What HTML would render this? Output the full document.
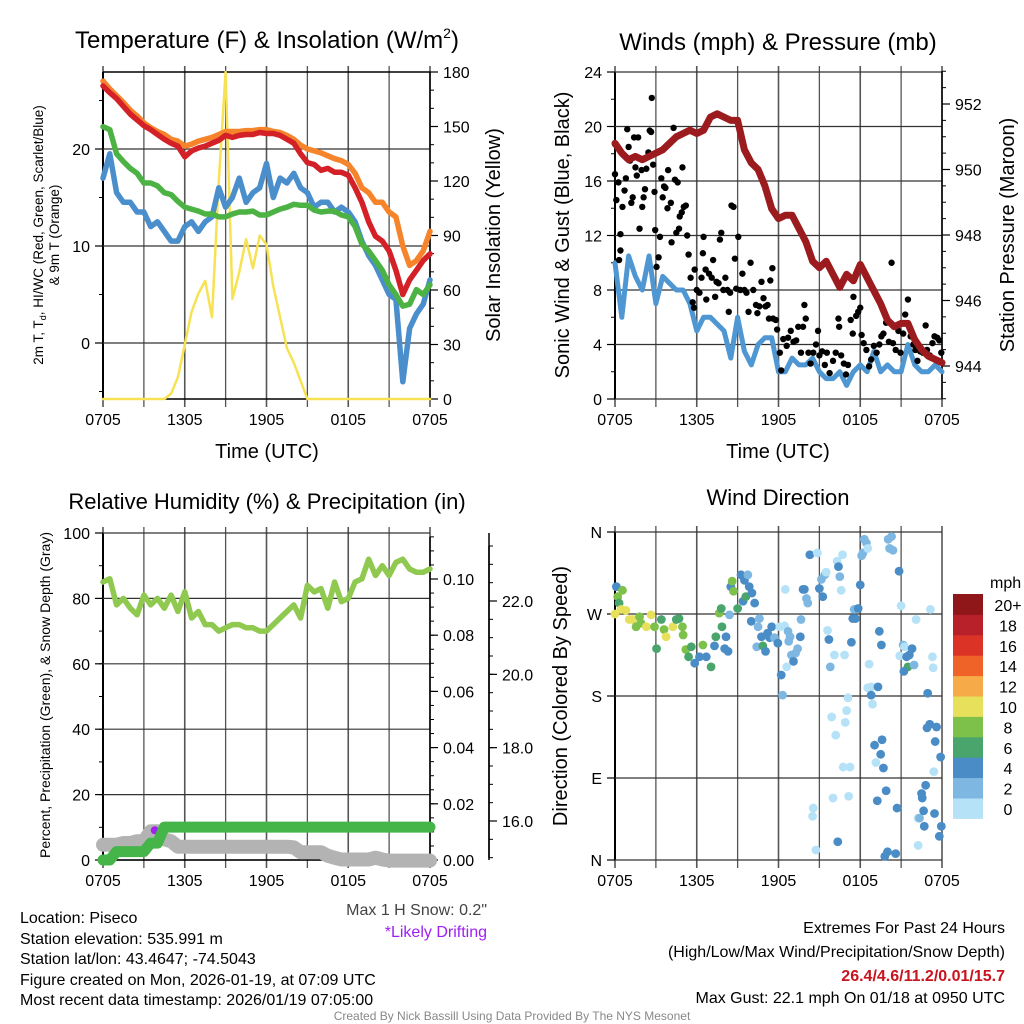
<!DOCTYPE html>
<html><head><meta charset="utf-8"><style>
html,body{margin:0;padding:0;background:#fff}
svg{display:block;font-family:"Liberation Sans",sans-serif}
</style></head><body>
<svg id="c" width="1024" height="1024" viewBox="0 0 1024 1024" xmlns="http://www.w3.org/2000/svg">
<g fill="#000" text-anchor="middle">
<text x="267" y="48" font-size="24">Temperature (F) &amp; Insolation (W/m<tspan font-size="14" dy="-10">2</tspan><tspan dy="10">)</tspan></text>
<text x="778" y="50" font-size="24">Winds (mph) &amp; Pressure (mb)</text>
<text x="267" y="509" font-size="22">Relative Humidity (%) &amp; Precipitation (in)</text>
<text x="778" y="505" font-size="22">Wind Direction</text>
<text x="267" y="458" font-size="20">Time (UTC)</text>
<text x="778" y="458" font-size="20">Time (UTC)</text>
<text transform="translate(43,235) rotate(-90)" font-size="13.5">2m T, T<tspan font-size="9" dy="3">d</tspan><tspan dy="-3">, HI/WC (Red, Green, Scarlet/Blue)</tspan></text>
<text transform="translate(59,235) rotate(-90)" font-size="13.5">&amp; 9m T (Orange)</text>
<text transform="translate(500,235) rotate(-90)" font-size="20">Solar Insolation (Yellow)</text>
<text transform="translate(569,235) rotate(-90)" font-size="20">Sonic Wind &amp; Gust (Blue, Black)</text>
<text transform="translate(1014,235) rotate(-90)" font-size="20">Station Pressure (Maroon)</text>
<text transform="translate(50,695) rotate(-90)" font-size="14">Percent, Precipitation (Green), &amp; Snow Depth (Gray)</text>
<text transform="translate(567,696) rotate(-90)" font-size="20">Direction (Colored By Speed)</text>
</g>
<g font-size="16" fill="#000">
<text x="487" y="915" text-anchor="end" fill="#444">Max 1 H Snow: 0.2"</text>
<text x="487" y="937" text-anchor="end" fill="#a020f0">*Likely Drifting</text>
<text x="20" y="923">Location: Piseco</text>
<text x="20" y="944">Station elevation: 535.991 m</text>
<text x="20" y="964">Station lat/lon: 43.4647; -74.5043</text>
<text x="20" y="985">Figure created on Mon, 2026-01-19, at 07:09 UTC</text>
<text x="20" y="1005">Most recent data timestamp: 2026/01/19 07:05:00</text>
<text x="1005" y="933" text-anchor="end">Extremes For Past 24 Hours</text>
<text x="1005" y="957" text-anchor="end">(High/Low/Max Wind/Precipitation/Snow Depth)</text>
<text x="1005" y="981" text-anchor="end" font-weight="bold" fill="#c8141e">26.4/4.6/11.2/0.01/15.7</text>
<text x="1005" y="1003" text-anchor="end">Max Gust: 22.1 mph On 01/18 at 0950 UTC</text>
<text x="512" y="1020" text-anchor="middle" font-size="12" fill="#888">Created By Nick Bassill Using Data Provided By The NYS Mesonet</text>
</g>
</svg>
<script>
const hours=[0,0.5,1,1.5,2,2.5,3,3.5,4,4.5,5,5.5,6,6.5,7,7.5,8,8.5,9,9.5,10,10.5,11,11.5,12,12.5,13,13.5,14,14.5,15,15.5,16,16.5,17,17.5,18,18.5,19,19.5,20,20.5,21,21.5,22,22.5,23,23.5,24];
const xTickLabels=["0705","1305","1905","0105","0705"];
const tempRed=[26.5,25.8,25.2,24.4,23.6,23,22.4,22,21.5,21,20.6,20.3,19.2,19.8,20.1,20.3,20.6,20.9,21.4,21.2,21.4,21.5,21.5,21.7,21.6,21.6,21.4,21,20.6,19.5,18.6,18.4,17.8,18,17.6,17.6,17.3,16,14.5,12.5,11,10.5,9.5,7.5,5,6.5,7.5,8.5,9.2];
const tempOrange=[27,26.2,25.5,24.8,24,23.4,22.7,22.2,21.8,21.5,21,20.8,20.3,20.5,20.8,21,21.2,21.5,21.8,21.8,21.8,21.9,21.9,22,22,21.8,21.7,21.4,21,20.4,20,19.8,19.6,19.3,19,18.8,18.4,17.5,16,15.5,14.5,14.5,13.5,13,10,8,8.5,9.5,11.5];
const dewGreen=[22.3,22,19.5,18.7,18,17.5,16.5,16.5,16.2,15.5,15.3,14.6,14,13.8,13.6,13.3,13.3,13,13,13.3,13.5,13.5,13.6,13.2,13.2,13.5,13.8,14,14.3,14.2,14.2,13.7,13.5,13.6,13.6,13.2,13,12,10.2,9.5,8.5,7.5,6,5,3.8,4,5.5,5,6];
const hiwcBlue=[17,19.5,15.5,14.5,14.5,13.5,13.5,12,12.5,11.5,10.5,10.5,12,12.5,11.5,12.5,13,16,14,15,17,14.5,15.5,16,18.5,15,17,16.5,17.5,16,15.5,14,14.5,14.5,13.5,14,13.5,12.5,10.5,9,8,6.5,5,4.5,-4,1.5,3,4,6.5];
const solar=[0,0,0,0,0,0,0,0,0,0,3,12,30,48,58,65,45,120,180,55,70,88,72,90,85,62,45,28,20,10,0,0,0,0,0,0,0,0,0,0,0,0,0,0,0,0,0,0,0];
const sonicWind=[10,6,10.5,9,8,10.5,7,9,8.5,8,8,7,5,6,6,5.5,5,3,6,3.5,2.5,4,4.5,4.5,2,2,3,2.5,2.5,3,2,1.5,1.5,2,1,2,2.5,2,3.5,2,2.5,2,2,4,2.5,2,2,2.5,2];
const pressure=[950.8,950.5,950.3,950.4,950.3,950.4,950.5,950.6,950.8,951,951.1,951.2,951.1,951.2,951.6,951.7,951.6,951.5,951.5,950.6,950.2,950,949.5,948.8,948.5,948.6,948.6,948.2,947.8,947.2,947,947.2,946.8,946.4,946.8,946.6,947.1,946.7,946.3,945.9,945.4,945.2,945.3,945.3,944.8,944.5,944.3,944.2,944.1];
const gustHours=[0,0,0.1,0.25,0.4,0.3,0.4,0.55,0.7,0.8,0.9,1,1.1,1.2,1.3,1.4,1.5,1.6,1.7,1.8,1.95,2,2.1,2.2,2.3,2.45,2.55,2.65,2.7,2.8,2.9,2.95,3.05,3.2,3.3,3.4,3.5,3.6,3.7,3.85,3.9,4.1,4.15,4.3,4.4,4.5,4.6,4.7,4.75,4.9,4.95,5.05,5.2,5.3,5.4,5.55,5.7,5.8,5.85,6,6.2,6.35,6.45,6.5,6.65,6.7,6.9,7.1,7.2,7.35,7.45,7.6,7.7,7.8,7.95,8.1,8.25,8.35,8.45,8.55,8.7,8.8,8.9,9.05,9.2,9.35,9.5,9.65,9.8,9.95,10.15,10.35,10.45,10.6,10.75,10.9,11.05,11.2,11.3,11.4,11.55,11.6,11.8,11.9,12.1,12.2,12.35,12.6,12.7,12.9,13.1,13.3,13.45,13.65,13.8,13.9,14,14.2,14.35,14.55,14.75,14.9,15,15.2,15.4,15.55,15.75,16,16.2,16.4,16.45,16.6,16.8,16.95,17.1,17.3,17.45,17.5,17.7,17.85,18,18.1,18.25,18.45,18.65,18.8,19,19.2,19.4,19.55,19.7,19.9,20.1,20.3,20.4,20.6,20.8,20.95,21.15,21.3,21.5,21.7,21.9,22.05,22.2,22.4,22.6,22.8,22.9,23.1,23.3,23.45,23.65,23.8,23.95];
const gustValues=[18.7,16.5,14.6,15.9,12.1,10.2,10.9,14.1,15.3,16.2,19.8,18.5,17.5,14.4,14.8,19.2,17,16.4,19.2,12.5,16.8,14.1,14.8,15.4,16.9,18.1,19.7,19.6,22.1,17.2,15.2,12.4,9.7,10.4,11.9,16.2,14.8,15.6,15.5,14,16.8,14.4,11.5,19.9,16.1,12.2,15.9,12.5,13.4,13.7,17,14.1,14.2,12,10.6,8.9,7.1,6.7,9.5,8,7.8,8.9,10.7,11.9,9.5,7.3,9.2,8.9,10.2,7.5,8.6,8.5,11.7,12.2,8,8.9,8,6.4,7.8,14.2,14.1,10.3,8.1,11.9,8,9.2,8,7.8,6.4,10,8,6.9,6.3,6.8,8.6,7.4,6.8,6.9,5.9,8.7,9.6,5.9,5.8,5.1,3.4,2.1,4.4,3.9,4.5,5,4.2,4.3,5.3,3.4,5.3,6.9,5.9,3.4,2.6,3.4,4,5,3.2,3.5,2.5,3.4,1.9,2.8,3.4,5.9,5.3,3.2,2.6,1.8,2.5,5.8,4.8,7.5,6.1,6.4,6.7,4.7,4.1,3.6,2.4,2.9,3.9,3.4,4,4.6,4.8,5.6,4.2,10,4.1,3.6,5,3.4,4.8,6.2,7.3,4.6,4,3.6,2.8,3.5,3.4,5.4,3.6,3.2,4.1,4.6,4.5,4.3,3.4];
const relHumidity=[85,86,78,80,77,75,81,78,80,77,81,76,82,74,76,72,72,70,71,72,72,71,71,70,70,72,74,76,78,74,84,82,83,77,85,79,80,85,86,92,87,90,87,91,92,89,88,88,89];
const precip=[0,0,0.003,0.003,0.003,0.003,0.003,0.006,0.006,0.0117,0.0117,0.0117,0.0117,0.0117,0.0117,0.0117,0.0117,0.0117,0.0117,0.0117,0.0117,0.0117,0.0117,0.0117,0.0117,0.0117,0.0117,0.0117,0.0117,0.0117,0.0117,0.0117,0.0117,0.0117,0.0117,0.0117,0.0117,0.0117,0.0117,0.0117,0.0117,0.0117,0.0117,0.0117,0.0117,0.0117,0.0117,0.0117,0.0117];
const snowDepth=[15.35,15.35,15.35,15.4,15.4,15.45,15.45,15.72,15.72,15.5,15.45,15.3,15.3,15.3,15.3,15.3,15.3,15.3,15.3,15.3,15.3,15.3,15.3,15.3,15.3,15.3,15.3,15.3,15.28,15.15,15.15,15.15,15.15,15.05,15.0,14.95,14.95,14.95,14.95,14.95,15.0,14.95,14.92,14.92,14.92,14.92,14.92,14.92,14.92];
const dirHours=[0.1,0.55,0.2,0.3,0,0.45,0.8,1.05,1.3,1.55,1.8,1.9,2.3,2.65,2.9,3.05,3.4,3.6,3.75,4.25,4.5,4.7,4.95,5,5.2,5.6,5.4,5.85,6.2,6.45,6.7,7.05,7.3,7.4,7.65,7.8,7.85,8.05,8.15,8.3,8.4,8.5,8.6,8.7,9,9.25,9.5,9.75,9.4,9.6,9.85,10.05,10,10.25,10.5,10.6,10.75,10.4,10.85,11.05,11.2,11.35,11.5,11.7,11.95,12.1,12.2,12.3,12.5,12.45,12.7,12.75,12.6,12.85,12.95,13.1,13.25,13.4,13.6,13.65,13.8,13.9,14.05,14.15,14.3,14.5,14.55,14.75,14.85,15,15.15,15.25,15.4,15.5,15.6,15.7,15.8,15.9,16,16.1,16.2,16.3,16.4,16.5,16.35,16.6,16.7,16.75,16.85,16.9,17,17.1,17.15,17.25,17.35,17.45,17.55,17.65,17.85,18,18.1,18.2,18.3,18.45,18.55,18.65,18.55,18.8,18.8,18.9,19.05,19.15,19.3,19.4,19.55,19.5,19.6,19.7,19.25,19.9,19.8,20,20.05,20.15,20.3,20.4,20.6,20.7,20.85,21,20.9,21.15,21.25,21.4,21.6,21.5,21.8,21.95,21.2,22.1,22.25,22.35,22.5,22.55,22.65,22.7,22.8,22.25,22.9,22.95,23.1,23.15,23.3,23.35,23.4,23.45,23.5,23.6,23.8,23.9,23.95];
const dirDegrees=[300,296,289,282,270,275,274,264,264,256,267,260,256,269,256,232,264,253,245,256,264,265,256,247,231,234,223,216,223,236,223,212,235,245,271,276,256,232,245,229,269,300,306,295,276,313,307,313,284,289,300,293,262,282,256,265,245,234,235,229,249,244,256,244,238,256,203,181,297,257,251,240,212,245,225,218,227,232,245,264,297,297,287,282,335,48,57,11,337,298,308,289,313,316,252,242,212,157,68,225,137,328,322,311,20,296,335,102,225,151,164,178,70,102,239,265,275,265,276,302,334,337,352,348,342,215,189,190,181,171,126,107,190,251,236,116,132,101,65,76,4,9,352,342,355,340,7,57,317,279,224,236,234,223,225,212,232,214,207,264,46,46,73,68,54,37,82,16,145,183,149,275,223,211,97,51,130,146,26,113,37];
const dirSpeeds=[4,8,8,6,10,10,10,10,10,8,8,8,10,10,8,6,6,8,10,10,6,6,8,8,8,6,6,4,4,8,4,6,4,6,8,6,6,4,4,4,2,4,8,8,6,4,4,2,4,6,4,4,4,4,2,2,4,2,6,4,4,4,4,2,4,0,4,2,0,0,2,2,0,2,2,4,2,2,4,2,4,4,2,2,4,0,0,0,0,4,2,4,2,0,0,4,2,0,0,0,0,0,4,2,4,0,0,0,0,0,0,0,0,0,4,4,2,4,4,4,2,2,2,2,0,0,0,0,4,0,4,0,4,4,4,4,4,4,4,4,4,4,2,2,2,2,4,4,4,0,0,2,0,4,4,6,4,2,4,0,0,2,4,4,4,4,4,0,4,4,4,0,0,0,0,4,4,4,4,4,4];
const speedBins=["0","2","4","6","8","10","12","14","16","18","20+"];
const speedColors=["#b5e2f7","#7eb8e2","#4a8cc5","#4aa56d","#7dc14b","#e6e05b","#f6aa48","#ef6329","#dc3327","#b8202a","#8f1619"];
const dirLabels=["N","E","S","W","N"];

const NS="http://www.w3.org/2000/svg";
const svg=document.getElementById('c');
function mk(tag,attrs,parent){const e=document.createElementNS(NS,tag);for(const k in attrs)e.setAttribute(k,attrs[k]);(parent||svg).appendChild(e);return e;}
function lin(d0,d1,r0,r1){return v=>r0+(v-d0)/(d1-d0)*(r1-r0);}

const X0L=103,X1L=430,X0R=615,X1R=942;
const xL=lin(0,24,X0L,X1L), xR=lin(0,24,X0R,X1R);

function frame(name,xf,x0,x1,y0,y1){
  const g=mk('g',{});
  
  
  for(let h=0;h<=24;h+=3){
    const l=mk('line',{x1:xf(h),x2:xf(h),y1:y0-6,y2:y1+8,stroke:'#555','stroke-width':(h%6===0)?1.6:1.3},g);
    
    
  }
  for(let i=0;i<5;i++){
    const t=mk('text',{x:xf(i*6),y:y1+26,'font-size':16,'text-anchor':'middle'},g);
    
    
    t.textContent=xTickLabels[i];
  }
  mk('line',{x1:x0,x2:x0,y1:y0,y2:y1,stroke:'#000','stroke-width':2},g);
  return g;
}
function yAxis(g,yf,vals,minors,xAxis,side,labels,fmt,x0,x1,grid){
  const dir=side==='left'?-1:1;
  mk('line',{x1:xAxis,x2:xAxis,y1:yf(Math.max(...vals,...minors)),y2:yf(Math.min(...vals,...minors)),stroke:'#000','stroke-width':1.5},g);
  minors.forEach(v=>{mk('line',{x1:xAxis,x2:xAxis+dir*4,y1:yf(v),y2:yf(v),stroke:'#000','stroke-width':1},g);});
  vals.forEach((v,i)=>{
    if(grid) mk('line',{x1:x0,x2:x1,y1:yf(v),y2:yf(v),stroke:'#333','stroke-width':1.2},g);
    mk('line',{x1:xAxis,x2:xAxis+dir*8,y1:yf(v),y2:yf(v),stroke:'#000','stroke-width':1.2},g);
    const t=mk('text',{x:xAxis+dir*13,y:yf(v)+6,'font-size':16,'text-anchor':side==='left'?'end':'start'},g);
    
    
    t.textContent=labels?labels[i]:fmt(v);
  });
}
function path(xs,ys,xf,yf,color,w,name){
  let d='';xs.forEach((h,i)=>{d+=(i?'L':'M')+xf(h).toFixed(1)+','+yf(ys[i]).toFixed(1);});
  const p=mk('path',{d:d,fill:'none',stroke:color,'stroke-width':w,'stroke-linejoin':'round','stroke-linecap':'round'});
  
  
  return p;
}
function range(a,b,s){const r=[];for(let v=a;v<=b+1e-9;v+=s)r.push(+v.toFixed(4));return r;}

// Panel 1
const yT=lin(0,10,343,246), ySol=lin(0,180,399,72);
let g1=frame('temperature',xL,X0L,X1L,72,399);
yAxis(g1,yT,[0,10,20],[-5,5,15,25],X0L,'left',null,v=>v,X0L,X1L,true);
yAxis(g1,ySol,range(0,180,30),range(0,180,10),X1L,'right',null,v=>v,X0L,X1L,false);
mk('line',{x1:X0L,x2:X1L,y1:72,y2:72,stroke:'#000','stroke-width':1.5});
mk('line',{x1:X0L,x2:X1L,y1:399,y2:399,stroke:'#000','stroke-width':1.5});
path(hours,solar,xL,ySol,'#f7e254',2.5,'solar-line');
path(hours,hiwcBlue,xL,yT,'#4a8fcc',5.5,'heat-index-windchill-line');
path(hours,dewGreen,xL,yT,'#4bb243',5.5,'dewpoint-line');
path(hours,tempOrange,xL,yT,'#f5842a',5.5,'temp-9m-line');
path(hours,tempRed,xL,yT,'#d42027',5.5,'temp-2m-line');

// Panel 2
const yW=lin(0,24,399,72), yP=lin(944,952,366,104);
let g2=frame('winds',xR,X0R,X1R,72,399);
yAxis(g2,yW,range(0,24,4),range(0,24,2),X0R,'left',null,v=>v,X0R,X1R,true);
yAxis(g2,yP,range(944,952,2),range(943,953,0.5),X1R,'right',null,v=>v,X0R,X1R,false);
path(hours,sonicWind,xR,yW,'#4f97d2',5,'sonic-wind-line');
gustHours.forEach((h,i)=>{
  const c=mk('circle',{cx:xR(h),cy:yW(gustValues[i]),r:3.2,fill:'#000'});
  
  
});
path(hours,pressure,xR,yP,'#9b1b1e',7,'pressure-line');

// Panel 3
const yRH=lin(0,100,860,533), yPr=lin(0,0.1,860,579), ySn=lin(16,22,821,601);
let g3=frame('humidity',xL,X0L,X1L,533,860);
yAxis(g3,yRH,range(0,100,20),range(0,100,10),X0L,'left',null,v=>v,X0L,X1L,true);
yAxis(g3,yPr,range(0,0.1,0.02),range(0,0.115,0.005),X1L,'right',null,v=>v.toFixed(2),X0L,X1L,false);
mk('line',{x1:X0L,x2:X1L,y1:860,y2:860,stroke:'#000','stroke-width':1.5});
yAxis(svg,ySn,range(16,22,2),range(15,23.5,0.5),489,'right',null,v=>v.toFixed(1),0,0,false);
mk('line',{x1:489,x2:489,y1:533,y2:860,stroke:'#000','stroke-width':1.5});
path(hours,snowDepth,xL,ySn,'#b3b3b3',14,'snow-depth-line');
const pm=mk('circle',{cx:xL(3.8),cy:ySn(15.72)-1,r:4,fill:'#a020f0'});


path(hours,precip,xL,yPr,'#46b549',11,'precipitation-line');
path(hours,relHumidity,xL,yRH,'#8fc94f',5.5,'relative-humidity-line');

// Panel 4
const yD=lin(0,360,860,532);
let g4=frame('direction',xR,X0R,X1R,532,860);
yAxis(g4,yD,[0,90,180,270,360],[],X0R,'left',dirLabels,null,X0R,X1R,true);
dirHours.forEach((h,i)=>{
  const bi=Math.min(10,Math.floor(dirSpeeds[i]/2));
  const c=mk('circle',{cx:xR(h),cy:yD(dirDegrees[i]),r:4.4,fill:speedColors[bi]});
  
  
});
// colorbar
const cb=mk('g',{});


const ct=mk('text',{x:990,y:588,'font-size':16},cb);


ct.textContent='mph';
const cbTop=594,cbH=20.4;
speedBins.forEach((lab,i)=>{
  const y=cbTop+(10-i)*cbH;
  const r=mk('rect',{x:953,y:y,width:30,height:cbH+0.5,fill:speedColors[i]},cb);
  
  
  const t=mk('text',{x:1008,y:y+17,'font-size':16,'text-anchor':'middle'},cb);
  
  
  t.textContent=lab;
});
</script>
</body></html>
